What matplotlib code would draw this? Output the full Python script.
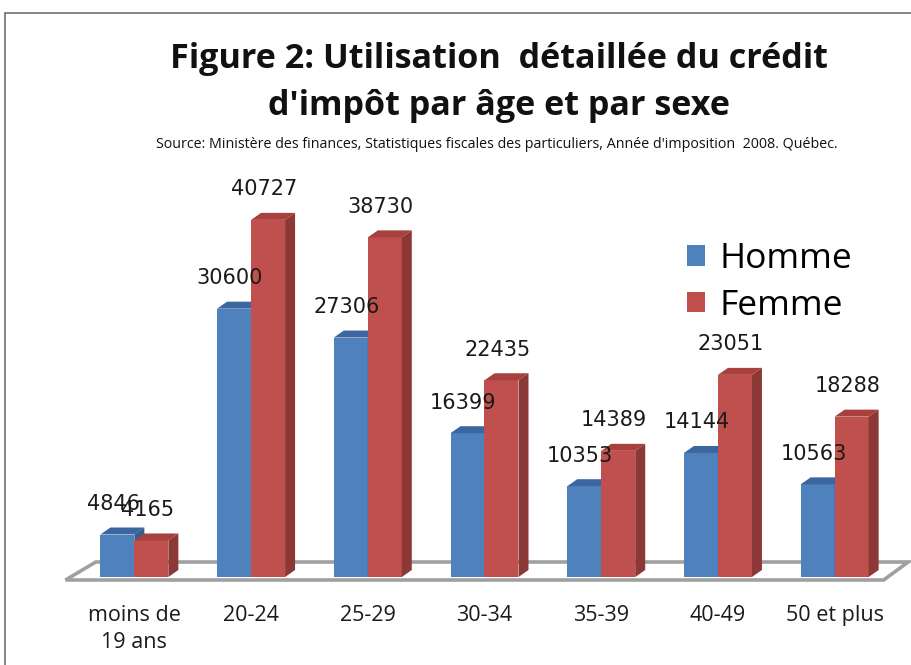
import matplotlib.pyplot as plt
from matplotlib.patches import Polygon, Rectangle, Patch

categories = ['moins de\n19 ans', '20-24', '25-29', '30-34', '35-39', '40-49', '50 et plus']
homme = [4846, 30600, 27306, 16399, 10353, 14144, 10563]
femme = [4165, 40727, 38730, 22435, 14389, 23051, 18288]
series = ['Homme', 'Femme']

W, H = 912, 665
BLUE = ('#4f81bd', '#3b66a0', '#365f91')   # front, top, side
RED = ('#c0504d', '#a8403d', '#8c3836')
TEXT_FONT = ['Open Sans', 'DejaVu Sans']

fig = plt.figure(figsize=(W / 100, H / 100), dpi=100)

# plot region in pixels: x index -0.5 -> 76px, 6.5 -> 893px ; value 0 -> 577px
ax = fig.add_axes([76 / W, (H - 577) / H, 817 / W, 394.6 / H])
ax.set_xlim(-0.5, 6.5)
ax.set_ylim(0, 45000)
ax.axis('off')

px_x = 7 / 817           # data units per pixel (x)
px_y = 45000 / 394.6     # data units per pixel (y)
dx, dy = 10 * px_x, 7 * px_y
bw = 34 * px_x

# floor
floor = Polygon([(-0.59, -3 * px_y), (6.42, -3 * px_y), (6.63, 15 * px_y), (-0.33, 15 * px_y)],
                closed=True, facecolor='white', edgecolor='#a0a0a0', lw=2.6,
                clip_on=False, zorder=1)
ax.add_patch(floor)


def draw_bar(x0, v, cols, z):
    x1 = x0 + bw
    ax.bar(x0, v, width=bw, align='edge', color=cols[0], edgecolor='none', zorder=z)
    ax.add_patch(Polygon([(x0, v), (x1, v), (x1 + dx, v + dy), (x0 + dx, v + dy)],
                         facecolor=cols[1], edgecolor='none', zorder=z, clip_on=False))
    ax.add_patch(Polygon([(x1, 0), (x1, v), (x1 + dx, v + dy), (x1 + dx, dy)],
                         facecolor=cols[2], edgecolor='none', zorder=z, clip_on=False))


for i, (h, f) in enumerate(zip(homme, femme)):
    draw_bar(i - bw, h, BLUE, 2 + i * 2)
    draw_bar(i, f, RED, 3 + i * 2)

for i, (h, f) in enumerate(zip(homme, femme)):
    for x, v in ((i - bw / 2, h), (i + bw / 2, f)):
        ax.annotate(str(v), (x, v), xytext=(-3, 22), textcoords='offset points',
                    ha='center', va='center', fontsize=15, family='DejaVu Sans',
                    color='#1a1a1a', zorder=30, annotation_clip=False)

for i, c in enumerate(categories):
    ax.text(i, -28 * px_y, c, ha='center', va='top', fontsize=15.5,
            family=TEXT_FONT, color='#1a1a1a', linespacing=1.38, clip_on=False)

# legend
handles = [Patch(facecolor=BLUE[0]), Patch(facecolor=RED[0])]
fig.legend(handles, series, loc='upper left', bbox_to_anchor=(687 / W, 1 - 242 / H),
           frameon=False, prop={'family': TEXT_FONT, 'size': 25.5},
           borderaxespad=0, borderpad=0,
           handlelength=0.5, handleheight=0.5, handletextpad=0.42, labelspacing=0.36)

# titles
fig.text(499 / W, 1 - 59 / H, 'Figure 2: Utilisation  détaillée du crédit', ha='center',
         va='center', fontsize=24.6, fontweight='bold', family=TEXT_FONT, color='#111111')
fig.text(499 / W, 1 - 106 / H, "d'impôt par âge et par sexe", ha='center',
         va='center', fontsize=24.6, fontweight='bold', family=TEXT_FONT, color='#111111')
fig.text(497 / W, 1 - 144 / H,
         "Source: Ministère des finances, Statistiques fiscales des particuliers, "
         "Année d'imposition  2008. Québec.",
         ha='center', va='center', fontsize=10.3, family=TEXT_FONT, color='#111111')

# chart frame
fig.patches.append(Rectangle((5 / W, -0.1), 1.2, 1 - 13 / H + 0.1, transform=fig.transFigure,
                             fill=False, edgecolor='#707070', lw=1.2))

fig.savefig('out.png', dpi=100)
